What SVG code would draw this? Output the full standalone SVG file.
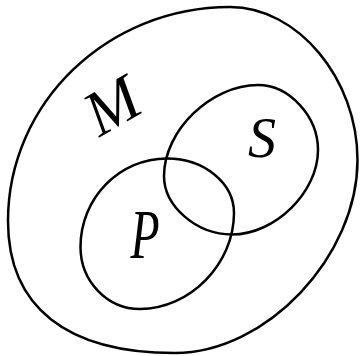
<svg xmlns="http://www.w3.org/2000/svg" width="360" height="356" viewBox="0 0 360 356">
<style>
.c{fill:none;stroke:#000;stroke-width:2.5;stroke-linejoin:round}
.t{font-family:"Liberation Serif","DejaVu Serif",serif;font-style:italic;fill:#000;text-anchor:middle}
</style>
<rect width="360" height="356" fill="#fff"/>
<g id="M">
<path class="c" d="M8,221 C8,102.9 107.5,7 230,7 C297.8,7 357.5,78.9 357.5,160 C357.5,256.5 266.5,353 175,353 C66.5,353 8,306.8 8,221 Z"/>
<text class="t" font-size="64" transform="translate(112,106) rotate(-30)" y="21">M</text>
</g>
<g id="P">
<path class="c" d="M80.5,247 C80.5,198.1 119.3,158.5 167,158.5 C204,158.5 234,182.9 234,213 C234,263.9 189.8,309 140,309 C107.2,309 80.5,281.2 80.5,247 Z"/>
<text class="t" font-size="56" transform="translate(145,258) scale(0.85,1.25)">P</text>
</g>
<g id="S">
<path class="c" d="M164,176 C164,130.5 211,85 258,85 C289.2,85 318,116.2 318,150 C318,192.3 275,234.5 232,234.5 C196.6,234.5 164,206.4 164,176 Z"/>
<text class="t" font-size="56" x="262" y="157">S</text>
</g>
</svg>
